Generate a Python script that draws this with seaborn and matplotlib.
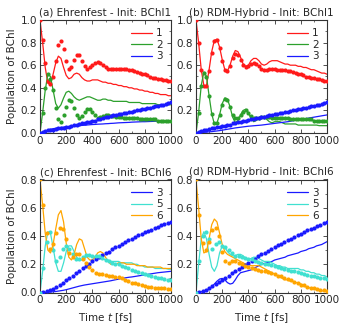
import numpy as np
import seaborn as sns
import matplotlib
matplotlib.use('Agg')
import matplotlib.pyplot as plt
from matplotlib.ticker import MultipleLocator, FixedLocator

# time grids [fs]: lines every 20 fs, dots every 20 fs (a, b) and 25 fs (c, d)
t_line = np.arange(0, 1001, 20)
t_dot_ab = np.arange(0, 1001, 20)
t_dot_cd = np.arange(0, 1001, 25)

# ---- (a) Ehrenfest - Init: BChl1 ----
a_red_line = [1.00, 0.80, 0.58, 0.44, 0.43, 0.52, 0.62, 0.68, 0.66, 0.58,
              0.51, 0.48, 0.49, 0.52, 0.53, 0.52, 0.49, 0.47, 0.46, 0.46,
              0.47, 0.47, 0.47, 0.46, 0.45, 0.45, 0.44, 0.44, 0.43, 0.43,
              0.42, 0.42, 0.41, 0.41, 0.40, 0.40, 0.39, 0.39, 0.38, 0.38,
              0.37, 0.37, 0.36, 0.36, 0.35, 0.35, 0.34, 0.34, 0.34, 0.33,
              0.33]
a_red_dots = [1.00, 0.82, 0.62, 0.46, 0.43, 0.50, 0.64, 0.78, 0.81, 0.74,
              0.64, 0.57, 0.58, 0.65, 0.69, 0.69, 0.64, 0.59, 0.57, 0.58,
              0.60, 0.62, 0.63, 0.62, 0.60, 0.58, 0.57, 0.57, 0.57, 0.57,
              0.57, 0.57, 0.57, 0.57, 0.56, 0.56, 0.55, 0.54, 0.53, 0.52,
              0.52, 0.51, 0.50, 0.49, 0.49, 0.48, 0.48, 0.47, 0.47, 0.46,
              0.46]
a_green_line = [0.00, 0.18, 0.38, 0.52, 0.50, 0.38, 0.26, 0.22, 0.25, 0.31,
                0.36, 0.37, 0.35, 0.32, 0.30, 0.29, 0.30, 0.31, 0.32, 0.32,
                0.31, 0.30, 0.29, 0.29, 0.30, 0.30, 0.29, 0.29, 0.28, 0.28,
                0.28, 0.28, 0.28, 0.28, 0.27, 0.27, 0.27, 0.27, 0.27, 0.26,
                0.26, 0.26, 0.26, 0.26, 0.26, 0.25, 0.25, 0.25, 0.25, 0.25,
                0.25]
a_green_dots = [0.00, 0.18, 0.40, 0.52, 0.48, 0.38, 0.22, 0.12, 0.10, 0.16,
                0.23, 0.29, 0.28, 0.22, 0.16, 0.13, 0.15, 0.19, 0.21, 0.21,
                0.19, 0.16, 0.13, 0.14, 0.15, 0.16, 0.16, 0.15, 0.15, 0.14,
                0.14, 0.14, 0.13, 0.13, 0.13, 0.13, 0.13, 0.13, 0.12, 0.12,
                0.12, 0.12, 0.12, 0.12, 0.12, 0.11, 0.11, 0.11, 0.11, 0.11,
                0.11]
a_blue_line = [0.000, 0.005, 0.015, 0.025, 0.033, 0.038, 0.042, 0.046, 0.049, 0.052,
               0.055, 0.057, 0.059, 0.061, 0.063, 0.065, 0.067, 0.069, 0.071, 0.073,
               0.075, 0.076, 0.078, 0.079, 0.080, 0.082, 0.083, 0.085, 0.086, 0.088,
               0.090, 0.091, 0.092, 0.093, 0.094, 0.096, 0.097, 0.098, 0.099, 0.100,
               0.100, 0.101, 0.102, 0.103, 0.104, 0.105, 0.106, 0.107, 0.108, 0.109,
               0.110]
a_blue_dots = [0.000, 0.010, 0.020, 0.030, 0.030, 0.030, 0.035, 0.040, 0.040, 0.045,
               0.050, 0.055, 0.060, 0.070, 0.075, 0.080, 0.085, 0.090, 0.095, 0.100,
               0.105, 0.110, 0.120, 0.125, 0.130, 0.140, 0.145, 0.150, 0.155, 0.160,
               0.165, 0.170, 0.175, 0.180, 0.185, 0.190, 0.195, 0.200, 0.205, 0.210,
               0.215, 0.220, 0.225, 0.230, 0.235, 0.240, 0.245, 0.250, 0.260, 0.265,
               0.270]

# ---- (b) RDM-Hybrid - Init: BChl1 ----
b_red_line = [1.00, 0.80, 0.56, 0.42, 0.42, 0.56, 0.72, 0.82, 0.83, 0.76,
              0.65, 0.56, 0.55, 0.60, 0.68, 0.73, 0.72, 0.67, 0.61, 0.59,
              0.60, 0.64, 0.66, 0.66, 0.64, 0.61, 0.60, 0.61, 0.63, 0.64,
              0.64, 0.64, 0.63, 0.62, 0.61, 0.61, 0.60, 0.60, 0.60, 0.59,
              0.59, 0.58, 0.58, 0.57, 0.56, 0.56, 0.55, 0.54, 0.53, 0.53,
              0.52]
b_red_dots = [1.00, 0.80, 0.56, 0.42, 0.42, 0.55, 0.71, 0.81, 0.82, 0.75,
              0.64, 0.56, 0.55, 0.59, 0.66, 0.70, 0.69, 0.65, 0.60, 0.58,
              0.59, 0.61, 0.62, 0.61, 0.59, 0.57, 0.56, 0.56, 0.57, 0.57,
              0.57, 0.56, 0.56, 0.56, 0.56, 0.55, 0.55, 0.54, 0.53, 0.52,
              0.52, 0.51, 0.50, 0.50, 0.49, 0.49, 0.48, 0.48, 0.47, 0.46,
              0.46]
b_green_line = [0.00, 0.18, 0.42, 0.54, 0.50, 0.33, 0.17, 0.08, 0.09, 0.16,
                0.26, 0.31, 0.30, 0.23, 0.14, 0.09, 0.11, 0.16, 0.20, 0.21,
                0.18, 0.13, 0.10, 0.11, 0.13, 0.14, 0.14, 0.12, 0.10, 0.09,
                0.10, 0.10, 0.10, 0.09, 0.08, 0.08, 0.08, 0.08, 0.08, 0.07,
                0.07, 0.07, 0.07, 0.07, 0.07, 0.07, 0.07, 0.065, 0.065, 0.065,
                0.065]
b_green_dots = [0.00, 0.18, 0.42, 0.53, 0.50, 0.33, 0.17, 0.09, 0.09, 0.16,
                0.25, 0.30, 0.29, 0.23, 0.16, 0.13, 0.13, 0.16, 0.19, 0.20,
                0.18, 0.15, 0.13, 0.13, 0.13, 0.14, 0.14, 0.14, 0.14, 0.13,
                0.13, 0.13, 0.13, 0.13, 0.13, 0.13, 0.12, 0.12, 0.12, 0.12,
                0.12, 0.12, 0.12, 0.12, 0.12, 0.11, 0.11, 0.11, 0.11, 0.11,
                0.11]
b_blue_line = [0.000, 0.002, 0.004, 0.006, 0.008, 0.010, 0.012, 0.015, 0.018, 0.021,
               0.025, 0.029, 0.033, 0.037, 0.041, 0.045, 0.048, 0.051, 0.054, 0.057,
               0.060, 0.062, 0.064, 0.066, 0.068, 0.070, 0.073, 0.076, 0.079, 0.082,
               0.085, 0.088, 0.091, 0.094, 0.097, 0.100, 0.104, 0.108, 0.112, 0.116,
               0.120, 0.124, 0.128, 0.132, 0.136, 0.140, 0.144, 0.148, 0.152, 0.156,
               0.160]
b_blue_dots = [0.000, 0.010, 0.020, 0.025, 0.030, 0.035, 0.040, 0.045, 0.050, 0.055,
               0.060, 0.065, 0.070, 0.075, 0.085, 0.090, 0.095, 0.100, 0.105, 0.110,
               0.115, 0.120, 0.125, 0.130, 0.135, 0.140, 0.145, 0.150, 0.155, 0.160,
               0.165, 0.170, 0.175, 0.180, 0.185, 0.190, 0.195, 0.200, 0.205, 0.210,
               0.215, 0.220, 0.225, 0.230, 0.235, 0.240, 0.245, 0.250, 0.255, 0.265,
               0.270]

# ---- (c) Ehrenfest - Init: BChl6 ----
c_blue_line = [0.000, 0.000, 0.001, 0.002, 0.003, 0.005, 0.007, 0.010, 0.013, 0.016,
               0.020, 0.025, 0.030, 0.035, 0.040, 0.045, 0.049, 0.053, 0.056, 0.059,
               0.062, 0.065, 0.068, 0.071, 0.074, 0.077, 0.080, 0.083, 0.087, 0.091,
               0.095, 0.099, 0.102, 0.105, 0.108, 0.110, 0.113, 0.116, 0.119, 0.122,
               0.125, 0.128, 0.131, 0.134, 0.137, 0.140, 0.142, 0.144, 0.146, 0.148,
               0.150]
c_cyan_line = [0.00, 0.15, 0.33, 0.43, 0.42, 0.32, 0.21, 0.15, 0.15, 0.21,
               0.29, 0.33, 0.33, 0.29, 0.25, 0.23, 0.23, 0.24, 0.26, 0.26,
               0.26, 0.25, 0.24, 0.24, 0.24, 0.23, 0.23, 0.22, 0.22, 0.22,
               0.22, 0.21, 0.21, 0.21, 0.21, 0.21, 0.20, 0.20, 0.19, 0.19,
               0.18, 0.18, 0.18, 0.18, 0.17, 0.17, 0.17, 0.17, 0.17, 0.165,
               0.165]
c_orange_line = [0.80, 0.62, 0.42, 0.30, 0.28, 0.34, 0.45, 0.55, 0.58, 0.50,
                 0.35, 0.25, 0.23, 0.27, 0.34, 0.38, 0.37, 0.31, 0.25, 0.23,
                 0.23, 0.25, 0.28, 0.29, 0.28, 0.25, 0.22, 0.20, 0.20, 0.20,
                 0.21, 0.21, 0.21, 0.20, 0.20, 0.20, 0.20, 0.19, 0.19, 0.19,
                 0.19, 0.18, 0.18, 0.18, 0.18, 0.18, 0.18, 0.17, 0.17, 0.17,
                 0.17]
c_blue_dots = [0.000, 0.003, 0.008, 0.015, 0.025, 0.040, 0.055, 0.070, 0.090, 0.105,
               0.120, 0.140, 0.155, 0.170, 0.190, 0.205, 0.220, 0.235, 0.250, 0.265,
               0.280, 0.290, 0.305, 0.320, 0.330, 0.345, 0.355, 0.370, 0.380, 0.390,
               0.405, 0.415, 0.425, 0.435, 0.445, 0.455, 0.465, 0.475, 0.485, 0.490,
               0.500]
c_cyan_dots = [0.00, 0.17, 0.36, 0.43, 0.30, 0.22, 0.25, 0.31, 0.33, 0.31,
               0.27, 0.24, 0.235, 0.25, 0.265, 0.265, 0.26, 0.26, 0.255, 0.245,
               0.23, 0.22, 0.21, 0.205, 0.20, 0.19, 0.18, 0.17, 0.16, 0.155,
               0.145, 0.14, 0.13, 0.125, 0.12, 0.11, 0.105, 0.10, 0.095, 0.09,
               0.085]
c_orange_dots = [0.80, 0.62, 0.42, 0.31, 0.34, 0.42, 0.46, 0.45, 0.38, 0.28,
                 0.25, 0.27, 0.27, 0.24, 0.21, 0.18, 0.16, 0.14, 0.13, 0.13,
                 0.125, 0.12, 0.12, 0.11, 0.11, 0.10, 0.09, 0.08, 0.07, 0.065,
                 0.06, 0.05, 0.045, 0.04, 0.04, 0.035, 0.03, 0.03, 0.03, 0.025,
                 0.025]

# ---- (d) RDM-Hybrid - Init: BChl6 ----
d_blue_line = [0.000, 0.000, 0.005, 0.010, 0.015, 0.025, 0.040, 0.060, 0.080, 0.095,
               0.100, 0.090, 0.070, 0.060, 0.065, 0.090, 0.120, 0.140, 0.145, 0.150,
               0.155, 0.160, 0.170, 0.180, 0.190, 0.200, 0.205, 0.210, 0.215, 0.220,
               0.230, 0.235, 0.240, 0.245, 0.250, 0.260, 0.265, 0.270, 0.275, 0.280,
               0.290, 0.295, 0.300, 0.310, 0.315, 0.320, 0.330, 0.335, 0.340, 0.350,
               0.360]
d_cyan_line = [0.00, 0.20, 0.38, 0.43, 0.38, 0.27, 0.18, 0.15, 0.19, 0.28,
               0.33, 0.32, 0.29, 0.27, 0.26, 0.26, 0.27, 0.27, 0.26, 0.24,
               0.24, 0.24, 0.25, 0.25, 0.24, 0.23, 0.22, 0.22, 0.22, 0.21,
               0.20, 0.19, 0.19, 0.18, 0.18, 0.17, 0.17, 0.17, 0.17, 0.17,
               0.16, 0.16, 0.15, 0.15, 0.14, 0.14, 0.13, 0.13, 0.12, 0.12,
               0.11]
d_orange_line = [0.80, 0.60, 0.38, 0.28, 0.29, 0.38, 0.48, 0.52, 0.50, 0.42,
                 0.34, 0.29, 0.27, 0.26, 0.25, 0.24, 0.23, 0.22, 0.21, 0.20,
                 0.20, 0.19, 0.19, 0.19, 0.19, 0.18, 0.17, 0.16, 0.15, 0.14,
                 0.13, 0.12, 0.11, 0.10, 0.09, 0.09, 0.08, 0.08, 0.07, 0.07,
                 0.06, 0.05, 0.04, 0.035, 0.03, 0.025, 0.02, 0.015, 0.012, 0.01,
                 0.008]
d_blue_dots = [0.000, 0.003, 0.008, 0.018, 0.030, 0.045, 0.060, 0.075, 0.090, 0.105,
               0.120, 0.135, 0.150, 0.165, 0.180, 0.195, 0.210, 0.225, 0.240, 0.255,
               0.270, 0.280, 0.295, 0.310, 0.320, 0.335, 0.345, 0.360, 0.370, 0.380,
               0.395, 0.405, 0.415, 0.425, 0.440, 0.450, 0.460, 0.470, 0.480, 0.490,
               0.500]
d_cyan_dots = [0.00, 0.22, 0.40, 0.43, 0.38, 0.31, 0.34, 0.36, 0.33, 0.32,
               0.30, 0.28, 0.26, 0.255, 0.25, 0.245, 0.24, 0.235, 0.225, 0.215,
               0.21, 0.205, 0.20, 0.195, 0.19, 0.18, 0.175, 0.165, 0.16, 0.155,
               0.15, 0.145, 0.14, 0.13, 0.125, 0.12, 0.115, 0.11, 0.105, 0.10,
               0.095]
d_orange_dots = [0.80, 0.55, 0.35, 0.30, 0.36, 0.44, 0.46, 0.40, 0.29, 0.22,
                 0.21, 0.22, 0.22, 0.21, 0.20, 0.19, 0.18, 0.17, 0.165, 0.16,
                 0.155, 0.15, 0.145, 0.14, 0.13, 0.12, 0.115, 0.105, 0.095, 0.085,
                 0.075, 0.065, 0.055, 0.05, 0.04, 0.035, 0.03, 0.025, 0.02, 0.015,
                 0.01]

labels_top = ['1', '2', '3']
labels_bot = ['3', '5', '6']
colors_top = ['#ff1a1a', '#2ca02c', '#1a1aff']
colors_bot = ['#1a1aff', '#40e0d0', '#ffa500']

sns.set_style('ticks')
plt.rcParams['font.family'] = ['DejaVu Sans']
plt.rcParams['axes.linewidth'] = 0.8
plt.rcParams['axes.edgecolor'] = '#333333'

fig = plt.figure(figsize=(3.4, 3.26), dpi=100)
W, H = 340, 326
def add_ax(left, top):
    return fig.add_axes([left / W, 1 - (top + 113) / H, 131 / W, 113 / H])

ax_a = add_ax(40, 20)
ax_b = add_ax(196, 20)
ax_c = add_ax(40, 179.5)
ax_d = add_ax(196, 179.5)


def draw_panel(ax, title, lines, dots, t_dot, labels, colors, ymax, show_zero, left):
    for y, c, lab in zip(lines, colors, labels):
        sns.lineplot(x=t_line, y=y, color=c, lw=0.9, ax=ax, label=lab)
    for y, c in zip(dots, colors):
        sns.scatterplot(x=t_dot, y=y, color=c, s=9, linewidth=0, ax=ax,
                        legend=False, zorder=3)
    ax.set_xlim(0, 1000)
    ax.set_ylim(0, ymax)
    ax.xaxis.set_major_locator(MultipleLocator(200))
    ax.xaxis.set_minor_locator(MultipleLocator(100))
    yt = np.arange(0, ymax + 0.01, 0.2)
    if not show_zero:
        yt = yt[1:]
    ax.yaxis.set_major_locator(FixedLocator(yt))
    ax.yaxis.set_minor_locator(MultipleLocator(0.1))
    ax.set_yticklabels([f'{v:.1f}' for v in yt])
    ax.tick_params(which='both', direction='in', top=True, right=True,
                   labelsize=7.5, pad=2, color='#333333')
    ax.tick_params(which='major', length=3, width=0.6)
    ax.tick_params(which='minor', length=1.5, width=0.5)
    ax.set_title(title, fontsize=7.5, pad=3)
    ax.set_xlabel('')
    ax.set_ylabel('Population of BChl' if left else '', fontsize=7.5, labelpad=3)
    ax.legend(loc='upper right', frameon=False, fontsize=7.5, handlelength=2.0,
              labelspacing=0.15, borderaxespad=0.4, handletextpad=0.4)


draw_panel(ax_a, '(a) Ehrenfest - Init: BChl1',
           [a_red_line, a_green_line, a_blue_line],
           [a_red_dots, a_green_dots, a_blue_dots], t_dot_ab,
           labels_top, colors_top, 1.0, True, True)
draw_panel(ax_b, '(b) RDM-Hybrid - Init: BChl1',
           [b_red_line, b_green_line, b_blue_line],
           [b_red_dots, b_green_dots, b_blue_dots], t_dot_ab,
           labels_top, colors_top, 1.0, False, False)
draw_panel(ax_c, '(c) Ehrenfest - Init: BChl6',
           [c_blue_line, c_cyan_line, c_orange_line],
           [c_blue_dots, c_cyan_dots, c_orange_dots], t_dot_cd,
           labels_bot, colors_bot, 0.8, True, True)
draw_panel(ax_d, '(d) RDM-Hybrid - Init: BChl6',
           [d_blue_line, d_cyan_line, d_orange_line],
           [d_blue_dots, d_cyan_dots, d_orange_dots], t_dot_cd,
           labels_bot, colors_bot, 0.8, False, False)

ax_c.set_xlabel('Time $t$ [fs]', fontsize=7.5, labelpad=4)
ax_d.set_xlabel('Time $t$ [fs]', fontsize=7.5, labelpad=4)

fig.savefig('out.png', dpi=100)
